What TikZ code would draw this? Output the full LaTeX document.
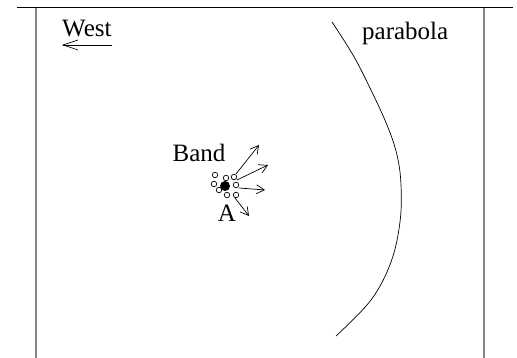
\documentclass[tikz,border=0pt]{standalone}
\usepackage{fontspec}
\setmainfont{Liberation Serif}
\usetikzlibrary{arrows.meta}
\begin{document}
\begin{tikzpicture}[x=1pt,y=-1pt,
  lbl/.style={inner sep=0pt,font=\fontsize{25}{29}\selectfont},
  oc/.style={circle,draw,line width=0.7pt,minimum size=5.5pt,inner sep=0pt},
  bigdot/.style={circle,fill,minimum size=10pt,inner sep=0pt},
  frameline/.style={draw=gray!95,line width=1.8pt},
  arr/.style={-{Straight Barb[length=8pt,width=9pt]},line width=0.7pt},
  warr/.style={-{Straight Barb[length=15pt,width=10pt]},line width=0.7pt}]
\useasboundingbox (0,0) rectangle (517,358);
% frame
\coordinate (tl) at (17,8);
\coordinate (tr) at (513,8);
\coordinate (lt) at (36,8);
\coordinate (lb) at (36,358);
\coordinate (rt) at (484,8);
\coordinate (rb) at (484,358);
\draw[frameline] (lt) -- (lb);
\draw[frameline] (rt) -- (rb);
\draw[line width=1pt] (tl) -- (tr);
% labels
\node[lbl,anchor=base west] (west) at (62,37) {West};
\node[lbl,anchor=base west] (parab) at (362,40) {parabola};
\node[lbl,anchor=base] (band) at (199,162) {Band};
\node[lbl,anchor=base] (A) at (227,222) {A};
% west arrow
\coordinate (w1) at (112,45);
\coordinate (w2) at (62,45);
\draw[warr] (w1) -- (w2);
% parabola
\draw[line width=0.7pt] plot[smooth,tension=0.6] coordinates
  {(332,22) (353,55) (370,88) (387,125) (397,155) (401,185) (400,222) (391,262) (371,300) (336,336)};
% cluster
\node[bigdot] (dot) at (225,186) {};
\node[oc] (c1) at (215,175) {};
\node[oc] (c2) at (226,178) {};
\node[oc] (c3) at (234,177) {};
\node[oc] (c4) at (214,184) {};
\node[oc] (c5) at (219,190) {};
\node[oc] (c6) at (236,185) {};
\node[oc] (c7) at (227,195) {};
\node[oc] (c8) at (236,195) {};
% arrows
\coordinate (s1) at (236,174);
\coordinate (t1) at (259,145);
\coordinate (s2) at (237,180);
\coordinate (t2) at (268,165);
\coordinate (s3) at (239,188);
\coordinate (t3) at (265,190);
\coordinate (s4) at (235,198);
\coordinate (t4) at (249,216);
\draw[arr] (s1) -- (t1);
\draw[arr] (s2) -- (t2);
\draw[arr] (s3) -- (t3);
\draw[arr] (s4) -- (t4);
\end{tikzpicture}
\end{document}
